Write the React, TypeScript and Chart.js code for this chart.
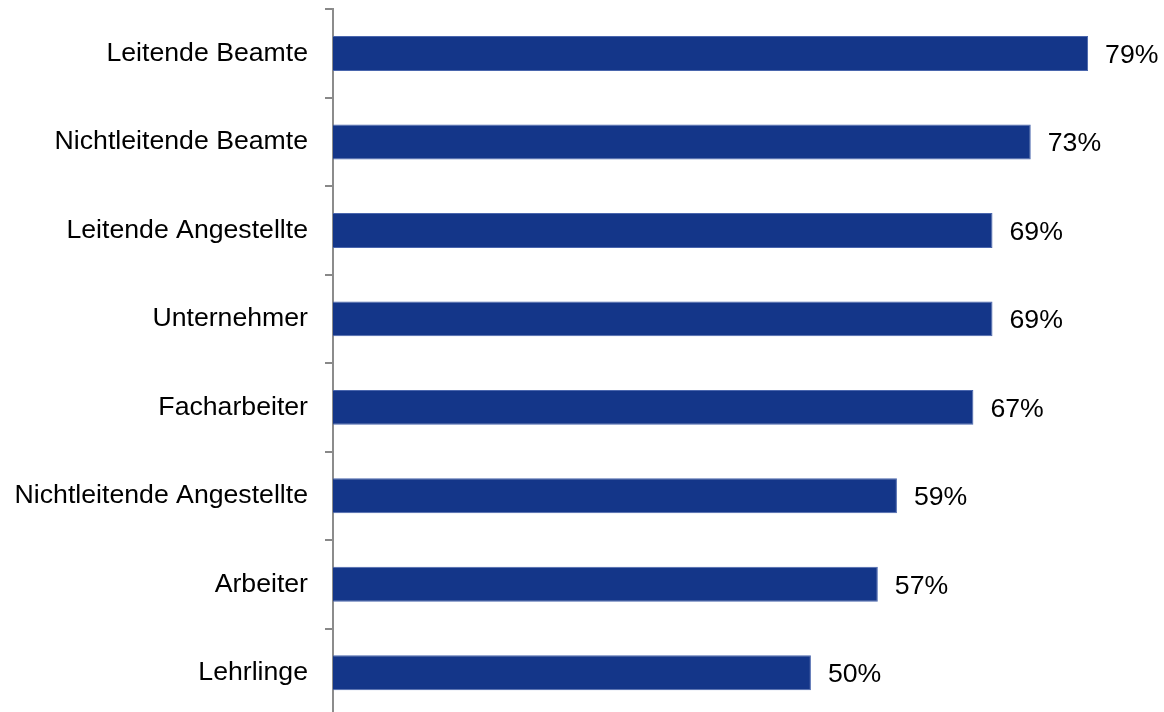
import React, { useEffect, useRef } from "react";
import { Chart, registerables } from "chart.js";

Chart.register(...registerables);

const categories = [
  "Leitende Beamte",
  "Nichtleitende Beamte",
  "Leitende Angestellte",
  "Unternehmer",
  "Facharbeiter",
  "Nichtleitende Angestellte",
  "Arbeiter",
  "Lehrlinge",
];
const values = [79, 73, 69, 69, 67, 59, 57, 50];
const valueLabels = ["79%", "73%", "69%", "69%", "67%", "59%", "57%", "50%"];

const FONT = "'Liberation Sans', Arial, sans-serif";
const FONT_SIZE = 26.67;

const labelPlugin = {
  id: "valueLabels",
  afterDatasetsDraw(chart: any) {
    const ctx = chart.ctx;
    const meta = chart.getDatasetMeta(0);
    ctx.save();
    ctx.font = `${FONT_SIZE}px ${FONT}`;
    ctx.fillStyle = "#000";
    ctx.textAlign = "left";
    ctx.textBaseline = "middle";
    meta.data.forEach((el: any, i: number) => {
      ctx.fillText(valueLabels[i], el.x + 17, el.y + 2);
    });
    ctx.restore();
  },
};

export default function App() {
  const ref = useRef<HTMLCanvasElement | null>(null);
  useEffect(() => {
    if (!ref.current) return;
    const chart = new Chart(ref.current, {
      type: "bar",
      data: {
        labels: categories,
        datasets: [
          {
            data: values,
            backgroundColor: "#143689",
            borderColor: "#4a66ad",
            borderWidth: 1,
            categoryPercentage: 1,
            barPercentage: 0.395,
          },
        ],
      },
      options: {
        indexAxis: "y",
        animation: false,
        responsive: false,
        maintainAspectRatio: false,
        layout: { padding: { top: 9.25, bottom: 1, left: 0, right: 9 } },
        plugins: { legend: { display: false }, tooltip: { enabled: false } },
        scales: {
          x: { display: false, min: 0, max: 86 },
          y: {
            position: "left",
            grid: {
              offset: true,
              drawOnChartArea: false,
              drawTicks: true,
              tickLength: 8,
              color: "#888",
              lineWidth: 2,
            },
            border: { display: true, color: "#8c8c8c", width: 2 },
            ticks: {
              color: "#000",
              padding: 17,
              font: { family: FONT, size: FONT_SIZE },
            },
            afterFit(scale: any) {
              scale.width = 333;
              scale.paddingTop = 0;
              scale.paddingBottom = 0;
            },
          },
        },
      },
      plugins: [labelPlugin],
    } as any);
    return () => chart.destroy();
  }, []);
  return (
    <div style={{ position: "fixed", left: 0, top: 0, width: 1164, height: 718, background: "#fff" }}>
      <canvas ref={ref} width={1164} height={718} style={{ width: 1164, height: 718 }} />
    </div>
  );
}
